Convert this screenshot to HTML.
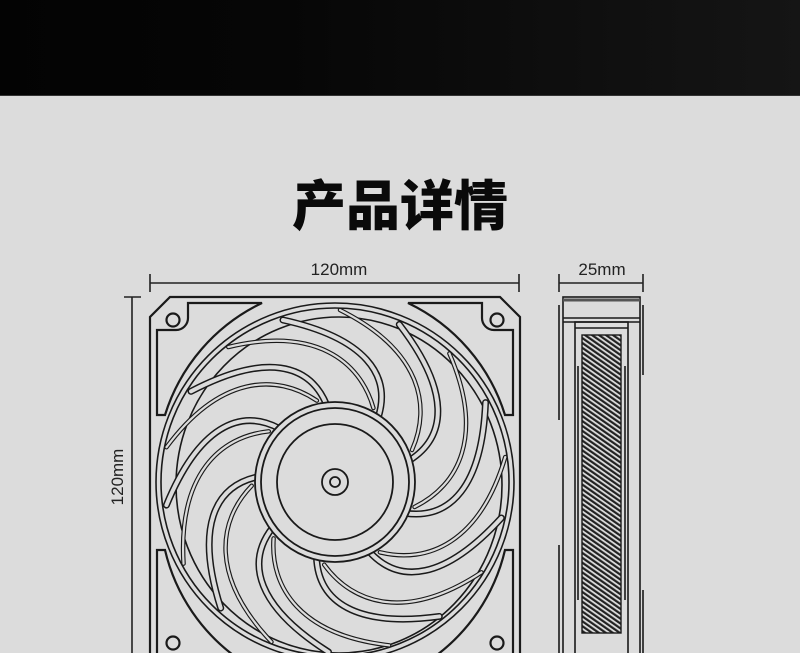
<!DOCTYPE html>
<html><head><meta charset="utf-8"><style>
html,body{margin:0;padding:0}
body{width:800px;height:653px;overflow:hidden;background:#dcdcdc;position:relative;font-family:"Liberation Sans","Noto Sans CJK SC",sans-serif}
.top{position:absolute;left:0;top:0;width:800px;height:95px;background:linear-gradient(90deg,#030303 0%,#060606 35%,#151515 100%);border-bottom:1px solid #333}
.title{position:absolute;left:0;width:800px;top:170px;text-align:center;font-size:54px;font-weight:900;color:#0a0a0a;line-height:64px;font-family:"Noto Sans CJK SC",sans-serif}
</style></head><body>
<div class="top"></div>
<div class="title">产品详情</div>
<svg width="800" height="653" style="position:absolute;left:0;top:0" xmlns="http://www.w3.org/2000/svg">
<defs>
<pattern id="h" width="4" height="4" patternUnits="userSpaceOnUse" patternTransform="rotate(-55)">
<rect width="4" height="4" fill="#ddd"/><rect width="2.2" height="4" fill="#222"/>
</pattern>
<g id="bl" fill="none" stroke-linecap="round">
<path d="M378 418C392 375 365 338 283 320" stroke="#1a1a1a" stroke-width="7"/>
<path d="M378 418C392 375 365 338 283 320" stroke="#dcdcdc" stroke-width="4"/>
<path d="M412 450C432 405 420 350 340 310" stroke="#1a1a1a" stroke-width="4.5"/>
<path d="M412 450C432 405 420 350 340 310" stroke="#dcdcdc" stroke-width="2.2"/>
</g>
</defs>
<g font-family="Liberation Sans, DejaVu Sans, sans-serif" font-size="17" fill="#222">
<text x="339" y="275" text-anchor="middle">120mm</text>
<text x="602" y="275" text-anchor="middle">25mm</text>
<text x="123" y="477" text-anchor="middle" transform="rotate(-90 123 477)">120mm</text>
</g>
<g stroke="#222" stroke-width="1.6" fill="none">
<path d="M150 283H519M150 274V292M519 274V292"/>
<path d="M559 283H643M559 274V292M643 274V292"/>
<path d="M132 297V653M124 297H141"/>
</g>
<g stroke="#1a1a1a" stroke-width="2.2" fill="none">
<path d="M170 297H500L520 317V660H150V317Z"/>
<path d="M157 330V415H165A185 185 0 0 1 262 303H188V318A12 12 0 0 1 176 330Z"/>
<path d="M513 330V415H505A185 185 0 0 0 408 303H482V318A12 12 0 0 0 494 330Z"/>
<path d="M157 660V550H165A185 185 0 0 0 240 660"/>
<path d="M513 660V550H505A185 185 0 0 1 430 660"/>
<circle cx="173" cy="320" r="6.5"/><circle cx="497" cy="320" r="6.5"/>
<circle cx="173" cy="643" r="6.5"/><circle cx="497" cy="643" r="6.5"/>
</g>
<g stroke="#1a1a1a" stroke-width="1.6" fill="none">
<circle cx="335" cy="482" r="179"/>
<circle cx="335" cy="482" r="174"/>
<ellipse cx="339" cy="485" rx="163" ry="168"/>
</g>
<use href="#bl"/>
<use href="#bl" transform="rotate(40 335 482)"/>
<use href="#bl" transform="rotate(80 335 482)"/>
<use href="#bl" transform="rotate(120 335 482)"/>
<use href="#bl" transform="rotate(160 335 482)"/>
<use href="#bl" transform="rotate(200 335 482)"/>
<use href="#bl" transform="rotate(240 335 482)"/>
<use href="#bl" transform="rotate(280 335 482)"/>
<use href="#bl" transform="rotate(320 335 482)"/>
<g stroke="#1a1a1a" stroke-width="1.8" fill="#dcdcdc">
<circle cx="335" cy="482" r="80"/>
<circle cx="335" cy="482" r="74"/>
<circle cx="335" cy="482" r="58" fill="none"/>
<circle cx="335" cy="482" r="13" fill="none"/>
<circle cx="335" cy="482" r="5" fill="none"/>
</g>
<g stroke="#1a1a1a" stroke-width="1.6" fill="none">
<rect x="563" y="297" width="77" height="360"/>
<path d="M563 300H640" stroke-width="3" stroke="#555"/>
<path d="M563 318H640M563 322H640"/>
<rect x="575" y="322" width="53" height="335"/>
<path d="M575 328H628"/>
<path d="M559 305V420M559 545V653M643 305V375M643 590V653"/>
<path d="M578 366V600M625 366V600"/>
</g>
<rect x="582" y="335" width="39" height="298" fill="url(#h)" stroke="#1a1a1a" stroke-width="1.4"/>
</svg>
</body></html>
